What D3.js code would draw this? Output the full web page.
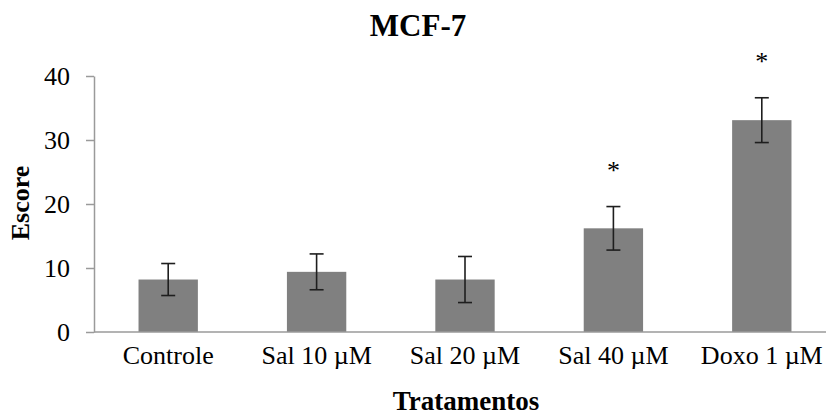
<!DOCTYPE html>
<html>
<head>
<meta charset="utf-8">
<script src="https://cdn.jsdelivr.net/npm/d3@7"></script>
<style>
  html, body { margin: 0; padding: 0; background: #ffffff; }
  svg { display: block; }
  text { font-family: "Liberation Serif", "Times New Roman", serif; fill: #000; }
</style>
</head>
<body>
<svg id="chart" width="827" height="415"></svg>
<script>
const categories = ["Controle", "Sal 10 \u00B5M", "Sal 20 \u00B5M", "Sal 40 \u00B5M", "Doxo 1 \u00B5M"];
const means = [8.2, 9.4, 8.2, 16.2, 33.1];
const errors = [2.5, 2.8, 3.6, 3.4, 3.5];
const significant = [false, false, false, true, true];
const yTicks = [0, 10, 20, 30, 40];

const svg = d3.select("#chart");
const W = 827, H = 415;
const plotLeft = 94, plotRight = 836, plotTop = 76, plotBottom = 332;

svg.append("rect").attr("width", W).attr("height", H).attr("fill", "#ffffff");

const x = d3.scaleBand().domain(categories).range([plotLeft, plotRight]).paddingInner(0.6).paddingOuter(0.3);
const y = d3.scaleLinear().domain([0, 40]).range([plotBottom, plotTop]);

// Y axis
const yAxis = svg.append("g").attr("transform", `translate(${plotLeft},0)`)
  .call(d3.axisLeft(y).tickValues(yTicks).tickSize(8).tickSizeOuter(0).tickPadding(16));
yAxis.select(".domain").attr("stroke", "#9a9a9a").attr("stroke-width", 1.5);
yAxis.selectAll(".tick line").attr("stroke", "#9a9a9a").attr("stroke-width", 1.5);
yAxis.selectAll(".tick text").attr("font-size", 26).attr("font-family", "Liberation Serif, serif").attr("fill", "#000");

// Bars
svg.append("g").selectAll("rect").data(categories).join("rect")
  .attr("x", d => x(d))
  .attr("width", x.bandwidth())
  .attr("y", (d, i) => y(means[i]))
  .attr("height", (d, i) => y(0) - y(means[i]))
  .attr("fill", "#808080");

// X axis
const xAxis = svg.append("g").attr("transform", `translate(0,${plotBottom})`)
  .call(d3.axisBottom(x).tickSize(0).tickPadding(14));
xAxis.select(".domain").remove();
xAxis.append("line").attr("x1", plotLeft).attr("x2", 826).attr("y1", 0).attr("y2", 0)
  .attr("stroke", "#9a9a9a").attr("stroke-width", 1.5);
xAxis.selectAll(".tick text").attr("font-size", 26).attr("font-family", "Liberation Serif, serif").attr("fill", "#000");

// Error bars
const eb = svg.append("g").attr("stroke", "#1e1e1e").attr("stroke-width", 1.6);
categories.forEach((c, i) => {
  const cx = x(c) + x.bandwidth() / 2;
  const y1 = y(means[i] + errors[i]), y2 = y(means[i] - errors[i]);
  eb.append("line").attr("x1", cx).attr("x2", cx).attr("y1", y1).attr("y2", y2);
  eb.append("line").attr("x1", cx - 7).attr("x2", cx + 7).attr("y1", y1).attr("y2", y1);
  eb.append("line").attr("x1", cx - 7).attr("x2", cx + 7).attr("y1", y2).attr("y2", y2);
  if (significant[i]) {
    svg.append("text").attr("x", cx).attr("y", y1 - 28)
      .attr("text-anchor", "middle").attr("font-size", 26).attr("fill", "#222").text("*");
  }
});

// Titles
svg.append("text").attr("x", 418).attr("y", 36).attr("text-anchor", "middle")
  .attr("font-size", 31).attr("font-weight", "bold").text("MCF-7");
svg.append("text").attr("x", 466).attr("y", 410).attr("text-anchor", "middle")
  .attr("font-size", 27).attr("font-weight", "bold").text("Tratamentos");
svg.append("text").attr("transform", "translate(29,203) rotate(-90)").attr("text-anchor", "middle")
  .attr("font-size", 26).attr("font-weight", "bold").text("Escore");
</script>
</body>
</html>
